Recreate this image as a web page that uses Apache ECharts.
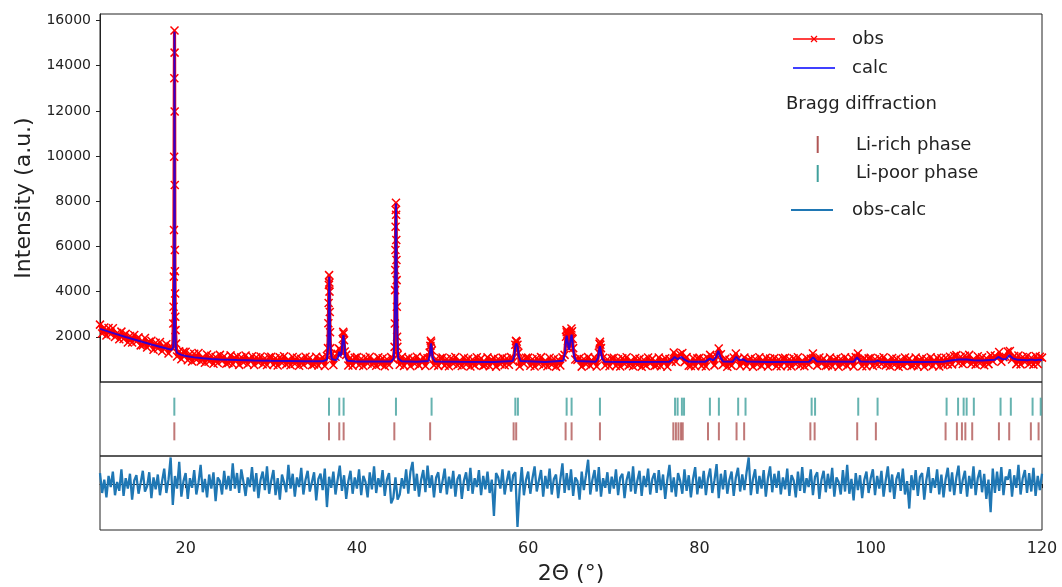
<!DOCTYPE html>
<html>
<head>
<meta charset="utf-8">
<script src="https://cdn.jsdelivr.net/npm/echarts@6/dist/echarts.min.js"></script>
<style>
  html, body { margin: 0; padding: 0; background: #fff; }
  #chart { width: 1062px; height: 587px; }
</style>
</head>
<body>
<div id="chart"></div>
<script>
// 2θ range and tick labels
const TWO_THETA_MIN = 10;
const TWO_THETA_MAX = 120;
const X_TICKS = [20, 40, 60, 80, 100, 120];
const Y_TICKS = [2000, 4000, 6000, 8000, 10000, 12000, 14000, 16000];

// observed pattern, sampled every 0.25° from 10°
const OBS_START = 10;
const OBS_STEP = 0.25;
const OBS_GRID = [
  2540, 2150, 2410, 2060, 2390, 2110, 2380, 1990, 2170, 1890, 2230, 1900, 2130, 1750, 2035, 1750, 2080, 1790, 1975, 1620,
  1630, 1945, 1530, 1780, 1830, 1425, 1740, 1485, 1770, 1365, 1550, 1675, 1260, 1590, 1480, 4900, 1130, 1355, 1010, 1335,
  1340, 965, 1240, 905, 1250, 990, 1280, 910, 1110, 852, 1215, 907, 1160, 805, 1110, 845, 1200, 935, 1140, 805,
  840, 1178, 785, 1063, 1140, 758, 1095, 863, 1170, 788, 996, 1144, 752, 1096, 868, 1126, 784, 1052, 750, 1098,
  1120, 760, 1050, 730, 1090, 840, 1140, 780, 990, 740, 1110, 810, 1070, 720, 1025, 765, 1120, 860, 1070, 740,
  780, 1120, 730, 1010, 1090, 710, 1150, 4730, 1200, 750, 1120, 1250, 1450, 1300, 1850, 1200, 730, 1075, 725, 1075,
  1100, 740, 1030, 710, 1070, 820, 1120, 760, 970, 720, 1090, 790, 1050, 700, 1010, 750, 1100, 1000, 5840, 1200,
  765, 1105, 715, 995, 1075, 695, 1035, 805, 1115, 735, 945, 1095, 705, 1055, 1300, 1400, 745, 1015, 715, 1065,
  1085, 725, 1015, 695, 1055, 805, 1105, 745, 955, 705, 1075, 775, 1035, 685, 995, 735, 1095, 835, 1045, 715,
  750, 1090, 700, 980, 1060, 680, 1020, 790, 1080, 740, 1040, 760, 1100, 900, 1650, 1650, 690, 1040, 810, 1070,
  1080, 720, 1010, 690, 1050, 800, 1100, 740, 950, 700, 1070, 770, 1030, 680, 990, 730, 1090, 1200, 2200, 1500,
  2200, 1500, 1000, 980, 1060, 680, 1020, 790, 1100, 720, 930, 1080, 690, 1300, 1500, 1070, 730, 1000, 700, 1050,
  1075, 715, 1005, 685, 1045, 795, 1095, 735, 945, 695, 1065, 765, 1025, 675, 985, 725, 1085, 825, 1035, 705,
  745, 1085, 695, 975, 1055, 675, 1015, 900, 1310, 900, 1150, 1230, 1280, 880, 1100, 720, 705, 1060, 695, 1045,
  1075, 715, 1005, 685, 1045, 1200, 1095, 735, 1150, 1480, 1230, 770, 1025, 675, 985, 725, 1085, 1260, 1035, 705,
  860, 1085, 695, 975, 1055, 675, 1015, 785, 1095, 715, 925, 1075, 685, 1035, 805, 1065, 695, 995, 695, 1045,
  1075, 715, 1005, 685, 1045, 795, 1095, 735, 945, 695, 1065, 765, 1025, 1260, 985, 725, 1085, 825, 1035, 705,
  745, 1085, 695, 975, 1055, 675, 1015, 785, 1095, 715, 925, 1075, 685, 1100, 1260, 965, 695, 1045, 695, 1045,
  1075, 715, 1005, 760, 1045, 795, 1095, 735, 945, 695, 1065, 765, 1025, 675, 985, 725, 1085, 825, 1035, 705,
  745, 1085, 695, 975, 1055, 675, 1015, 785, 1095, 715, 925, 1075, 685, 1050, 740, 1070, 780, 1120, 780, 1150,
  1190, 830, 1120, 800, 1160, 910, 1200, 800, 1020, 770, 1140, 830, 1090, 740, 1050, 790, 1180, 920, 1160, 1050,
  1330, 900, 1100, 1120, 1350, 1370, 1000, 1150, 790, 1170, 780, 1110, 890, 1140, 800, 1070, 770, 1150, 800, 1120,
  1080
];
// extra observed points on the steep peaks
const OBS_PEAK_POINTS = [
  [18.56, 2590], [18.59, 3330], [18.62, 4665], [18.64, 6725], [18.66, 9975], [18.68, 13450], [18.70, 15560],
  [18.71, 14580], [18.72, 11970], [18.73, 8720], [18.74, 5840], [18.77, 3920], [18.79, 2885], [18.82, 2295], [18.88, 1700],
  [36.62, 1500], [36.67, 2600], [36.70, 3500], [36.73, 4300], [36.78, 4400], [36.80, 4000], [36.83, 3100], [36.86, 2200], [36.90, 1500],
  [37.90, 1480], [38.35, 1900], [38.40, 2220], [38.45, 2150], [38.58, 1350],
  [44.40, 1555], [44.43, 2590], [44.46, 4067], [44.48, 4954], [44.52, 6873], [44.54, 7610], [44.56, 7935], [44.58, 7400],
  [44.60, 6283], [44.62, 5397], [44.64, 4510], [44.66, 3328], [44.69, 1999], [44.72, 1555],
  [48.58, 1600], [48.63, 1830], [48.68, 1750],
  [58.58, 1820], [58.66, 1780], [58.85, 1300],
  [64.42, 2000], [64.47, 2295], [64.56, 2100], [64.65, 1800], [64.92, 1900], [65.05, 2370], [65.12, 2250], [65.18, 1900],
  [68.33, 1700], [68.38, 1780], [68.43, 1650]
];

// calculated profile
const CALC_POINTS = [
  [10, 2350], [11, 2230], [12, 2110], [13, 1990], [14, 1880], [15, 1770], [16, 1660], [17, 1560], [18, 1460], [18.4, 1430],
  [18.55, 1560], [18.62, 2400], [18.66, 5200], [18.68, 9800], [18.70, 15500], [18.72, 10200], [18.74, 5400], [18.78, 2500],
  [18.85, 1500], [19.0, 1290], [19.5, 1200], [20, 1150], [21, 1090], [22, 1050], [23, 1020], [24, 1000], [26, 975], [28, 955],
  [30, 940], [32, 930], [34, 922], [36, 918], [36.5, 990], [36.65, 1600], [36.72, 3300], [36.77, 4660], [36.82, 3300],
  [36.9, 1600], [37.05, 1020], [37.6, 960], [37.8, 1100], [37.94, 1335], [38.08, 1150], [38.2, 1250], [38.32, 1800],
  [38.42, 2075], [38.52, 1750], [38.65, 1100], [38.9, 940], [40, 910], [42, 905], [44, 905], [44.3, 1050], [44.42, 2400],
  [44.5, 5600], [44.56, 7900], [44.62, 5600], [44.7, 2400], [44.82, 1050], [45.2, 920], [47, 900], [48.35, 930], [48.5, 1150],
  [48.6, 1600], [48.65, 1705], [48.72, 1550], [48.82, 1100], [49.1, 910], [52, 895], [56, 890], [58.2, 930], [58.4, 1200],
  [58.5, 1600], [58.62, 1705], [58.78, 1550], [58.9, 1150], [59.1, 930], [62, 890], [64.1, 940], [64.3, 1300], [64.42, 1900],
  [64.5, 2050], [64.6, 1800], [64.78, 1420], [64.95, 1850], [65.07, 2100], [65.17, 1800], [65.35, 1150], [65.6, 930],
  [67.9, 900], [68.15, 1050], [68.3, 1450], [68.38, 1585], [68.46, 1420], [68.62, 1050], [68.9, 900], [72, 888], [76.5, 900],
  [76.85, 1000], [77.1, 1110], [77.45, 1010], [77.9, 1110], [78.25, 990], [78.7, 900], [80.7, 900], [81.2, 1040], [81.6, 960],
  [81.95, 1100], [82.2, 1380], [82.42, 1100], [82.75, 910], [83.9, 900], [84.3, 1110], [84.65, 970], [85.1, 1000], [85.5, 910],
  [88, 888], [92.8, 895], [93.28, 1085], [93.7, 910], [98, 895], [98.4, 1085], [98.8, 905], [100.5, 895], [100.8, 940],
  [101.2, 890], [106, 885], [108.5, 900], [109.5, 960], [110.3, 1000], [111.2, 1000], [112, 960], [113, 950], [114.5, 980],
  [114.9, 1110], [115.3, 1020], [115.8, 1010], [116.2, 1190], [116.6, 1040], [117.2, 980], [118.3, 960], [118.8, 990],
  [119.2, 960], [119.7, 990], [120, 965]
];

// obs - calc, every 0.25° from 10°
const DIFF_START = 10;
const DIFF_STEP = 0.25;
const DIFF = [
  150, -120, 60, -180, 110, -40, 170, -150, 30, -90, 200, -160, 80, -60, 140, -210, 50, 120, -130, 20,
  180, -100, -30, 160, -190, 90, -70, 130, -150, 40, 210, -120, 60, 360, -280, 110, -60, 300, -170, 40,
  150, -200, 80, -50, 190, -140, 20, 260, -110, 70, -180, 130, -60, 160, -230, 90, 40, -140, 180, -70,
  110, -90, 280, -60, 150, -120, 200, 30, -160, 90, -40, 230, -100, 150, -190, 60, 170, -80, 240, -130,
  50, 190, -150, 80, -210, 130, 20, -110, 260, -60, 140, -170, 90, -40, 220, -140, 60, 180, -100, 30,
  160, -220, 70, 140, -80, 210, -310, 100, -50, 170, -140, 60, 250, -90, 120, -200, 40, 180, -130, 90,
  -60, 200, -150, 110, 30, -180, 160, -70, 240, -120, 80, -40, 190, -160, 60, 150, -260, -190, 90, -210,
  -140, 80, -60, 200, -130, 170, 300, -90, 140, -170, 60, 190, -110, 250, -50, 120, -180, 90, 160, -120,
  40, 210, -140, 100, -60, 180, -170, 70, 130, -200, 50, 160, -90, 220, -130, 80, -40, 190, -150, 110,
  -70, 170, -120, 60, -430, 150, 90, -60, 200, -140, 40, 180, -100, 120, 160, -580, -80, 230, -150, 60,
  170, -130, 80, 240, -100, 50, 190, -170, 110, -60, 210, -140, 70, 130, -190, 60, 280, -120, 150, -80,
  200, -160, 90, 40, -210, 170, -80, 120, 330, -140, 60, 190, -100, 230, -170, 80, -50, 160, -130, 100,
  -60, 200, -150, 90, 140, -190, 60, 170, -100, 240, -130, 50, 180, -160, 110, -40, 210, -140, 70, 150,
  -120, 190, -80, 130, -200, 60, 260, -110, 90, -170, 150, 40, -130, 200, -90, 120, -180, 70, 230, -140,
  100, -60, 180, -150, 80, 210, -120, 50, 270, -190, 140, -70, 190, -130, 60, 170, -160, 90, 220, -100,
  130, -80, 160, 360, -150, 70, 200, -130, 110, -60, 190, -170, 80, 240, -110, 140, -50, 180, -140, 90,
  -70, 210, -160, 120, 50, -180, 170, -90, 230, -120, 80, -40, 200, -150, 100, 160, -200, 60, 180, -110,
  140, -60, 220, -170, 90, 30, -140, 190, -100, 260, -130, 70, -220, 150, -80, 120, -190, 60, 170, -120,
  80, 200, -150, 110, -60, 180, -170, 50, 240, -110, 130, -200, 70, 160, -90, 210, -140, 40, -330, 120,
  -80, 190, -160, 100, 150, -210, 60, 230, -120, 80, -50, 200, -140, 130, -180, 70, 220, -100, 160, -150,
  90, 250, -130, 60, 180, -170, 110, -60, 240, -150, 80, 190, -110, 140, -200, 60, -380, 210, -120, 170,
  -90, 230, -150, 100, 60, 200, -170, 120, -50, 260, -140, 80, 190, -120, 150, -100, 220, -160, 110, -80,
  140
];

// Bragg reflection positions (2θ)
const LI_POOR_TICKS = [18.68, 36.74, 37.94, 38.45, 44.56, 48.72, 58.5, 58.8, 64.49, 65.07, 68.38, 77.15, 77.45, 77.95, 78.2,
  81.22, 82.27, 84.52, 85.38, 93.1, 93.5, 98.54, 100.8, 108.86, 110.2, 110.85, 111.2, 112.04, 115.16, 116.36, 118.9, 119.85];
const LI_RICH_TICKS = [18.68, 36.74, 37.94, 38.45, 44.37, 48.55, 58.3, 58.6, 64.37, 65.07, 68.38, 76.95, 77.25, 77.55, 77.85, 78.05,
  81.0, 82.27, 84.33, 85.22, 92.95, 93.45, 98.42, 100.6, 108.74, 110.06, 110.65, 111.05, 111.85, 114.97, 116.17, 118.7, 119.6];

const RED = '#ff0000';
const BLUE = '#0000ff';
const TEAL = '#40a09c';
const BROWN = '#b05655';
const DIFF_BLUE = '#1f77b4';
const FONT = 'DejaVu Sans';
const INK = '#222';

const obsData = OBS_GRID.map((y, i) => [OBS_START + i * OBS_STEP, y])
  .concat(OBS_PEAK_POINTS)
  .sort((a, b) => a[0] - b[0]);
const diffData = DIFF.map((v, i) => [DIFF_START + i * DIFF_STEP, v]);

const chart = echarts.init(document.getElementById('chart'), null, { renderer: 'canvas' });

const hiddenX = (gridIndex) => ({
  type: 'value', gridIndex, min: TWO_THETA_MIN, max: TWO_THETA_MAX,
  axisLine: { show: false }, axisTick: { show: false }, axisLabel: { show: false }, splitLine: { show: false }
});
const hiddenY = (gridIndex, min, max) => ({
  type: 'value', gridIndex, min, max,
  axisLine: { show: false }, axisTick: { show: false }, axisLabel: { show: false }, splitLine: { show: false }
});

const legendText = (x, y, text) => ({
  type: 'text', x, y,
  style: { text, fill: INK, fontSize: 18, fontFamily: FONT, verticalAlign: 'middle' }
});
const legendLine = (x1, x2, y, stroke, lineWidth) => ({
  type: 'line', shape: { x1, y1: y, x2, y2: y }, style: { stroke, lineWidth }
});

chart.setOption({
  animation: false,
  backgroundColor: '#fff',
  grid: [
    { left: 100, top: 14, width: 942, height: 368, show: true, borderColor: INK, borderWidth: 1, backgroundColor: 'transparent' },
    { left: 100, top: 382, width: 942, height: 74, show: true, borderColor: INK, borderWidth: 1, backgroundColor: 'transparent' },
    { left: 100, top: 456, width: 942, height: 74, show: true, borderColor: INK, borderWidth: 1, backgroundColor: 'transparent' }
  ],
  xAxis: [
    hiddenX(0),
    hiddenX(1),
    {
      type: 'value', gridIndex: 2, min: TWO_THETA_MIN, max: TWO_THETA_MAX,
      name: '2Θ (°)', nameLocation: 'middle', nameGap: 33,
      nameTextStyle: { fontSize: 22, fontFamily: FONT, color: INK },
      axisLine: { show: true, lineStyle: { color: INK } },
      axisTick: { show: true, inside: false, length: 4, lineStyle: { color: INK }, customValues: X_TICKS },
      axisLabel: { fontSize: 16, fontFamily: FONT, color: INK, margin: 11, customValues: X_TICKS },
      splitLine: { show: false }
    }
  ],
  yAxis: [
    {
      type: 'value', gridIndex: 0, min: 0, max: 16290,
      name: 'Intensity (a.u.)', nameLocation: 'middle', nameGap: 57,
      nameTextStyle: { fontSize: 22, fontFamily: FONT, color: INK },
      axisLine: { show: true, lineStyle: { color: INK } },
      axisTick: { show: true, inside: false, length: 4, lineStyle: { color: INK }, customValues: Y_TICKS },
      axisLabel: { fontSize: 14, fontFamily: FONT, color: INK, margin: 9, customValues: Y_TICKS, formatter: (v) => String(v) },
      splitLine: { show: false }
    },
    hiddenY(1, 0, 3),
    hiddenY(2, -620, 380)
  ],
  series: [
    {
      name: 'obs', type: 'line', xAxisIndex: 0, yAxisIndex: 0, data: obsData,
      symbol: 'path://M0,0L10,10M10,0L0,10', symbolSize: 8, showSymbol: true, showAllSymbol: true,
      itemStyle: { color: 'rgba(0,0,0,0)', borderColor: RED, borderWidth: 1.5 },
      lineStyle: { color: RED, width: 3.2 }, silent: true, z: 2
    },
    {
      name: 'calc', type: 'line', xAxisIndex: 0, yAxisIndex: 0, data: CALC_POINTS,
      showSymbol: false, lineStyle: { color: BLUE, width: 2, opacity: 0.8 }, silent: true, z: 3
    },
    {
      name: 'Li-poor phase', type: 'scatter', xAxisIndex: 1, yAxisIndex: 1,
      data: LI_POOR_TICKS.map((x) => [x, 2]),
      symbol: 'rect', symbolSize: [2, 18], itemStyle: { color: TEAL }, silent: true
    },
    {
      name: 'Li-rich phase', type: 'scatter', xAxisIndex: 1, yAxisIndex: 1,
      data: LI_RICH_TICKS.map((x) => [x, 1]),
      symbol: 'rect', symbolSize: [2, 18], itemStyle: { color: BROWN }, silent: true
    },
    {
      name: 'obs-calc', type: 'line', xAxisIndex: 2, yAxisIndex: 2, data: diffData,
      showSymbol: false, lineStyle: { color: DIFF_BLUE, width: 2.3 }, silent: true
    }
  ],
  graphic: [
    legendLine(793, 835, 39, RED, 1.5),
    { type: 'line', shape: { x1: 811, y1: 36, x2: 817, y2: 42 }, style: { stroke: RED, lineWidth: 1.2 } },
    { type: 'line', shape: { x1: 811, y1: 42, x2: 817, y2: 36 }, style: { stroke: RED, lineWidth: 1.2 } },
    legendText(852, 39, 'obs'),
    legendLine(793, 835, 68, BLUE, 1.5),
    legendText(852, 68, 'calc'),
    legendText(786, 104, 'Bragg diffraction'),
    { type: 'rect', shape: { x: 816.7, y: 136, width: 2, height: 17 }, style: { fill: BROWN } },
    legendText(856, 145, 'Li-rich phase'),
    { type: 'rect', shape: { x: 816.7, y: 165, width: 2, height: 17 }, style: { fill: TEAL } },
    legendText(856, 173, 'Li-poor phase'),
    legendLine(791, 833, 210, DIFF_BLUE, 1.8),
    legendText(852, 210, 'obs-calc')
  ]
});
</script>
</body>
</html>
